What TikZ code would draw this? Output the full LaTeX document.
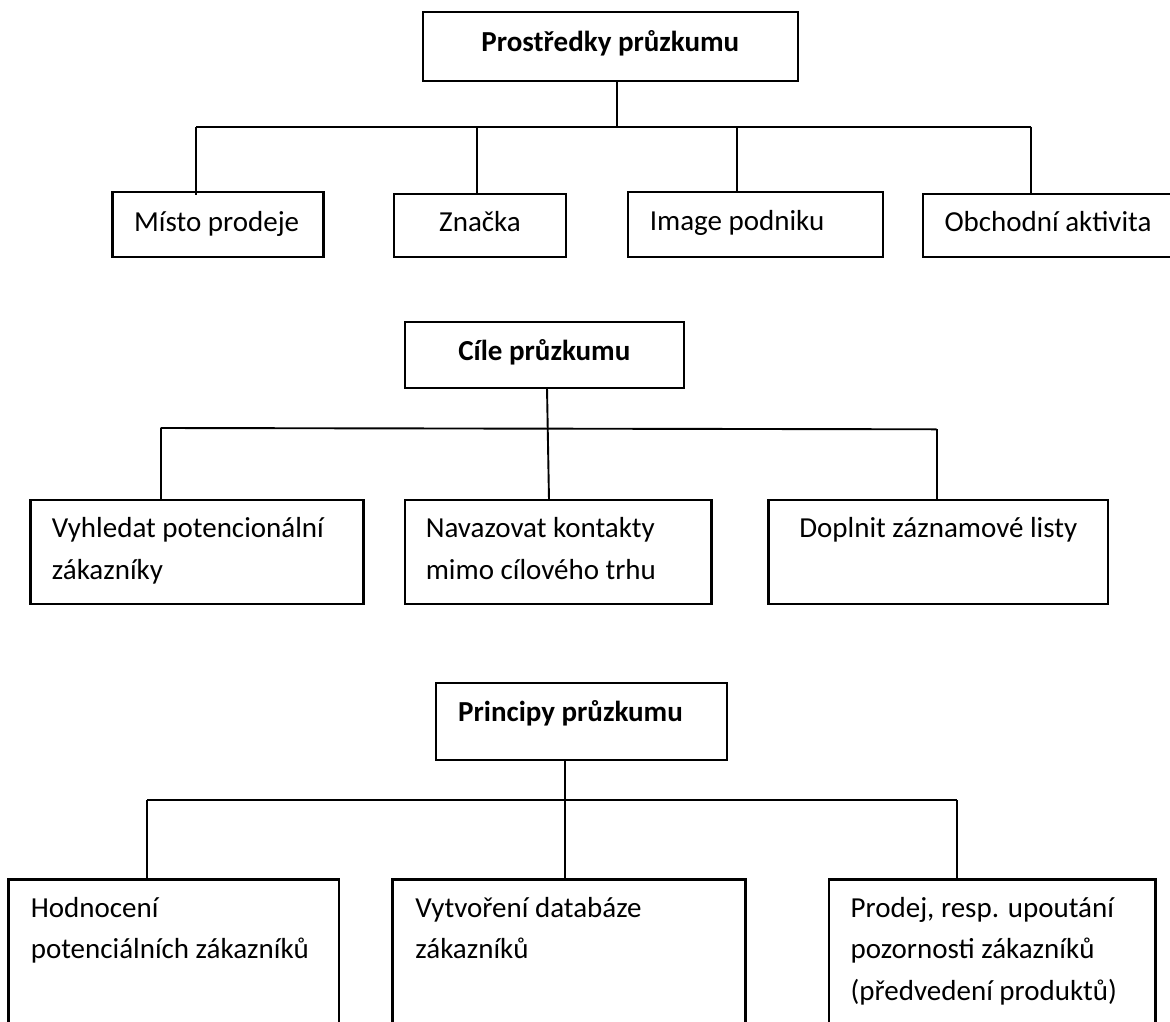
\documentclass[tikz,border=0pt]{standalone}
\usepackage{fontspec}
\setmainfont{Carlito}
\begin{document}
\begin{tikzpicture}[x=1pt,y=-1pt,
  box/.style={draw,line width=2.4pt,inner sep=0pt,outer sep=0pt},
  conn/.style={line width=1.9pt},
  txt/.style={inner sep=0pt,font=\fontsize{29}{41.7}\selectfont},
  btxt/.style={inner sep=0pt,font=\fontsize{29}{41.7}\selectfont\bfseries}]
\useasboundingbox (0,0) rectangle (1170,1021);
\fill[white] (0,0) rectangle (1170,1021);
\newcommand{\tl}[2]{\begin{tabular}[t]{@{}l@{}}#1\\#2\end{tabular}}
\newcommand{\tll}[3]{\begin{tabular}[t]{@{}l@{}}#1\\#2\\#3\end{tabular}}
% ---------- section 1
\node[box,minimum width=374.7pt,minimum height=69pt] (P) at (610.35,46.5) {};
\node[box,minimum width=210.9pt,minimum height=65pt] (m) at (217.95,224.5) {};
\node[box,minimum width=172pt,minimum height=63pt] (z) at (480,225.5) {};
\node[box,minimum width=255pt,minimum height=65pt] (im) at (755.5,224.5) {};
\node[box,minimum width=249pt,minimum height=63pt] (ob) at (1047.5,225.5) {};
\node[btxt,anchor=base] (Pt) at (610.35,51.7) {Prostředky průzkumu};
\node[txt,anchor=base west] (mt) at (134,231) {Místo prodeje};
\node[txt,anchor=base] (zt) at (480,231.7) {Značka};
\node[txt,anchor=base west] (imt) at (649.6,230) {Image podniku};
\node[txt,anchor=base west] (obt) at (944.3,231.7) {Obchodní aktivita};
\coordinate (j1) at (617,126.7);
\coordinate (j1l) at (196,126.7);
\coordinate (j1r) at (1031,126.7);
\draw[conn] (j1 |- P.south) -- (j1);
\draw[conn] (j1l) -- (j1r);
\draw[conn] (j1l) -- ([yshift=-3pt]j1l |- m.north);
\draw[conn] (477,126.7) -- (477,194);
\draw[conn] (737,126.7) -- (737,192);
\draw[conn] (j1r) -- (j1r |- ob.north);
% ---------- section 2
\node[box,minimum width=278.7pt,minimum height=66pt] (C) at (544.35,354.7) {};
\node[box,minimum width=333pt,minimum height=104pt] (v) at (197.1,552) {};
\node[box,minimum width=306.6pt,minimum height=104pt] (n) at (558.3,552) {};
\node[box,minimum width=339.4pt,minimum height=104pt] (d) at (938.3,552) {};
\node[btxt,anchor=base] (Ct) at (544.35,360) {Cíle průzkumu};
\node[txt,anchor=base west] (vt) at (51.7,537.5) {\tl{Vyhledat potencionální}{zákazníky}};
\node[txt,anchor=base west] (nt) at (425.6,537.5) {\tl{Navazovat kontakty}{mimo cílového trhu}};
\node[txt,anchor=base] (dt) at (938.3,537.5) {Doplnit záznamové listy};
\coordinate (j2l) at (160.7,428);
\coordinate (j2r) at (936.6,429.3);
\draw[conn] (547,387.7) -- (549,500);
\draw[conn] (j2l) -- (j2r);
\draw[conn] (j2l) -- (j2l |- v.north);
\draw[conn] (j2r) -- (j2r |- d.north);
% ---------- section 3
\node[box,minimum width=291pt,minimum height=77pt] (Pr) at (581.5,721.5) {};
\node[box,minimum width=330.6pt,minimum height=160.7pt] (h) at (173.7,959.65) {};
\node[box,minimum width=352.7pt,minimum height=160.7pt] (vy) at (568.95,959.65) {};
\node[box,minimum width=326.8pt,minimum height=160.7pt] (pd) at (992.1,959.65) {};
\node[btxt,anchor=base west] (Prt) at (458,721.7) {Principy průzkumu};
\node[txt,anchor=base west] (ht) at (30.6,917) {\tl{Hodnocení}{potenciálních zákazníků}};
\node[txt,anchor=base west] (vyt) at (415.2,917) {\tl{Vytvoření databáze}{zákazníků}};
\node[txt,anchor=base west] (pdt) at (850.5,917) {\tll{Prodej, resp. upoutání}{pozornosti zákazníků}{(předvedení produktů)}};
\coordinate (j3) at (565,800);
\coordinate (j3l) at (147,800);
\coordinate (j3r) at (957,800);
\draw[conn] (j3 |- Pr.south) -- (j3 |- vy.north);
\draw[conn] (j3l) -- (j3r);
\draw[conn] (j3l) -- (j3l |- h.north);
\draw[conn] (j3r) -- (j3r |- pd.north);
\end{tikzpicture}
\end{document}
